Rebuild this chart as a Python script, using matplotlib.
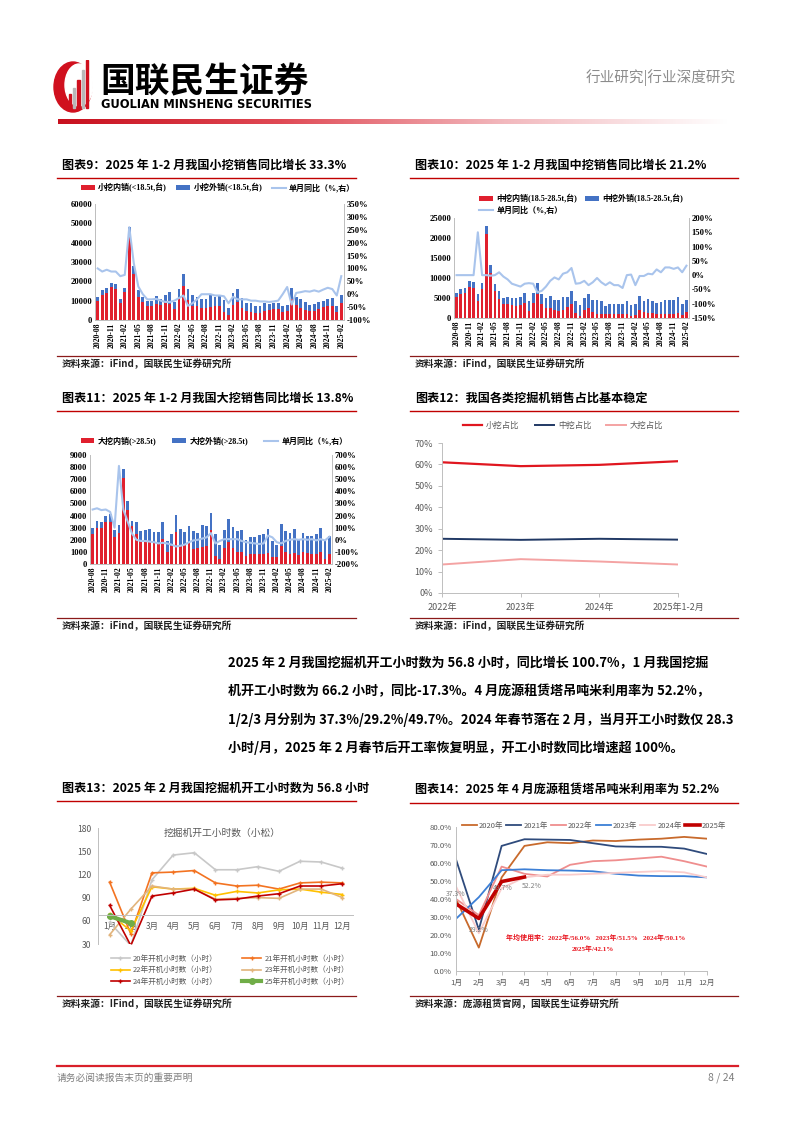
import numpy as np
import pandas as pd
import matplotlib
matplotlib.use("Agg")
import matplotlib.pyplot as plt
from matplotlib.patches import Ellipse, Rectangle
from matplotlib.lines import Line2D
from matplotlib.colors import LinearSegmentedColormap

plt.rcParams['font.family'] = ['Noto Sans CJK SC', 'DejaVu Sans']
plt.rcParams['axes.unicode_minus'] = False

W, H = 794, 1123
SERIF = ['Liberation Serif', 'Noto Sans CJK SC']

# ---- data: monthly excavator sales (2020-08 .. 2025-02) ----
months = list(pd.date_range('2020-08-01', '2025-02-01', freq='MS').strftime('%Y-%m'))

small_dom = [10000, 13000, 14000, 17000, 16000, 9000, 14500, 43000, 24000, 12000,
             9500, 7000, 7000, 8500, 8000, 9000, 8500, 5500, 11000, 17500,
             10500, 7000, 7000, 6000, 6000, 6500, 7000, 7500, 4000, 2500,
             8000, 9500, 6000, 4500, 4000, 3500, 3500, 4500, 5000, 5500,
             5500, 4000, 4500, 11000, 8000, 6000, 5000, 4500, 4500, 5500,
             6500, 7000, 7000, 4000, 9000]
small_exp = [2000, 2500, 2500, 2200, 2800, 2000, 2100, 5000, 4000, 3500,
             2500, 3000, 3000, 4000, 3000, 3800, 6000, 4000, 5000, 6500,
             5500, 6000, 5000, 4800, 5000, 6500, 5000, 5500, 6500, 3500,
             5800, 6500, 5500, 4500, 5000, 4000, 4000, 4300, 3500, 3500,
             3500, 3500, 3000, 5500, 4000, 4800, 4500, 3500, 4000, 3800,
             3500, 4000, 4300, 3300, 3800]
small_yoy = [100, 88, 95, 88, 88, 70, 75, 260, 120, 30,
             0, -20, -20, -18, -25, -30, -30, -25, -15, -5,
             -45, -35, -20, 0, 0, 0, -5, -5, -8, -35,
             -10, -20, -20, -20, -25, -25, -28, -28, -30, -28,
             -25, 0, 28, -40, 5, 8, 12, 10, 15, 10,
             18, 25, 20, -5, 70]

mid_dom = [5200, 6100, 6300, 7800, 7400, 4300, 7300, 20900, 11300, 6700,
           4800, 3400, 3400, 3200, 2900, 3200, 3800, 1800, 3800, 5900,
           3400, 2500, 2400, 1900, 1800, 2000, 2700, 3500, 1200, 500,
           2000, 2500, 1500, 1000, 1000, 1000, 1000, 1000, 1000, 1000,
           1000, 600, 800, 2000, 1500, 1300, 1200, 1000, 1000, 1000,
           1000, 1000, 1200, 700, 1500]
mid_exp = [1000, 1100, 1200, 1400, 1500, 1700, 1500, 2100, 2000, 1700,
           2000, 1600, 1800, 1900, 2100, 2100, 2400, 2500, 2400, 2900,
           2600, 2500, 3100, 2600, 2700, 3300, 2600, 3200, 3100, 2700,
           3000, 3500, 3000, 3500, 3300, 2000, 2400, 2500, 2500, 2600,
           3300, 2600, 2600, 3500, 2800, 3500, 3100, 2800, 2900, 3400,
           3500, 3400, 4100, 2800, 3000]
mid_yoy = [0, 0, 0, 0, 0, 150, 0, 0, -2, 0,
           10, -5, -15, -30, -35, -40, -30, -28, -30, -60,
           -55, -40, -20, -8, -15, 5, 10, 25, -30, -28,
           -20, -35, -25, -10, -25, -35, -25, -35, -35, -45,
           0, 2, -35, -3, -3, 5, 3, 20, 10, 27,
           27, 22, 27, 10, 33]

large_dom = [2450, 3000, 3000, 3500, 3450, 2250, 2550, 7100, 4450, 3100,
             2450, 1900, 1900, 1900, 1750, 1700, 2050, 950, 1500, 2650,
             1450, 1550, 1700, 1200, 1300, 1400, 1450, 2800, 650, 400,
             1300, 1800, 1350, 950, 950, 700, 800, 800, 800, 850,
             900, 600, 550, 1500, 1000, 850, 900, 750, 950, 900,
             800, 800, 1000, 450, 850]
large_exp = [550, 550, 500, 500, 650, 550, 650, 750, 750, 450,
             1000, 800, 900, 950, 900, 950, 1450, 950, 1000, 1400,
             1400, 1100, 1400, 1550, 1300, 1800, 1700, 1400, 1850, 1150,
             1500, 1900, 1700, 1750, 1850, 1300, 1450, 1450, 1600, 1600,
             2000, 1300, 1050, 1800, 1700, 1750, 1950, 1250, 1650, 1450,
             1550, 1650, 1950, 1450, 1450]
large_yoy = [250, 260, 245, 250, 230, 100, 610, 250, 150, 50,
             0, -10, -10, -15, -20, -30, -25, -30, -40, -55,
             -50, -40, -20, -5, 0, 10, 20, 55, -30, -10,
             5, 5, 5, 5, -10, -20, -25, -30, -35, -30,
             35, 20, -20, -30, -10, 0, 5, 0, 5, 0,
             5, -5, 5, -5, 25]

# ---- share by size ----
share_years = ['2022年', '2023年', '2024年', '2025年1-2月']
share_small = [61.0, 59.2, 59.8, 61.5]
share_mid = [25.3, 24.8, 25.3, 24.9]
share_large = [13.3, 15.8, 14.7, 13.3]

# ---- Komatsu working hours ----
month_lbl = ['1月', '2月', '3月', '4月', '5月', '6月', '7月', '8月', '9月', '10月', '11月', '12月']
hours_20 = [58, 28, 113, 145, 148, 126, 126, 130, 124, 137, 136, 128]
hours_21 = [110, 43, 122, 123, 125, 109, 105, 106, 101, 109, 110, 109]
hours_22 = [69, 47, 104, 101, 102, 93, 98, 96, 100, 101, 97, 94]
hours_23 = [42, 75, 105, 101, 101, 88, 89, 90, 89, 101, 101, 90]
hours_24 = [80, 28, 92, 96, 101, 87, 88, 92, 95, 105, 105, 108]
hours_25 = [66, 57]

# ---- Pangyuan tower crane utilisation (%) ----
util_20 = [40, 13, 52, 69.5, 71.5, 71, 72.5, 72.2, 73, 73.5, 74.5, 73.5]
util_21 = [62, 23, 69.5, 73.2, 73, 72.8, 71, 69.2, 69, 69, 68, 65]
util_22 = [40, 31, 58, 54, 52.5, 59, 61, 61.5, 62.5, 63.5, 61, 58]
util_23 = [29, 41, 56, 56.5, 56, 55.8, 55.4, 54, 53, 52.7, 52.7, 52]
util_24 = [47, 21, 46, 52, 53.5, 53.5, 54, 54.5, 55, 55.5, 54.8, 52]
util_25 = [37.3, 29.2, 49.7, 52.2]

RED = '#e0202e'
BLUE = '#4472c4'
LBLUE = '#a9c4ec'
TITLE_RED = '#c00000'
GRAY = '#595959'


def px(x0, y0, x1, y1):
    return [x0 / W, 1 - y1 / H, (x1 - x0) / W, (y1 - y0) / H]


def ft(x, y):
    return x / W, 1 - y / H


fig = plt.figure(figsize=(W / 100, H / 100), dpi=100)

# ---- header ----
lg = fig.add_axes(px(52, 60, 100, 114))
lg.set_xlim(0, 48)
lg.set_ylim(0, 54)
lg.axis('off')
lg.add_patch(Ellipse((21, 27), 38, 50, color='#d0101e'))
lg.add_patch(Ellipse((27, 29), 28, 42, color='white'))
for i, hgt in enumerate([14, 20, 28, 38, 48]):
    lg.add_patch(Rectangle((17 + i * 4.2, 6), 2.2, hgt, color='#d0101e' if i % 2 == 0 else '#b8b8b8'))
fig.text(*ft(100, 82), '国联民生证券', fontsize=25, fontweight='bold', va='center', ha='left')
fig.text(*ft(101, 104), 'GUOLIAN MINSHENG SECURITIES', fontsize=8.3, fontweight='bold',
         va='center', ha='left', family=['DejaVu Sans'])
fig.text(*ft(736, 78), '行业研究|行业深度研究', fontsize=10.5, color='#8c8c8c', va='center', ha='right')

gax = fig.add_axes(px(58, 119, 728, 124))
grad = np.linspace(0, 1, 256).reshape(1, -1)
gcmap = LinearSegmentedColormap.from_list('g', ['#c8101e', '#e04a55', '#f2b8bd', '#ffffff'])
gax.imshow(grad, aspect='auto', cmap=gcmap)
gax.axis('off')


def title_block(x0, x1, y, text):
    fig.text(*ft(x0 + 5, y), text, fontsize=8.7, fontweight='bold', va='center', ha='left')
    fig.add_artist(Line2D([x0 / W, x1 / W], [1 - (y + 13) / H] * 2, color=TITLE_RED, lw=1.0))


def source_block(x0, x1, y, text):
    fig.add_artist(Line2D([x0 / W, x1 / W], [1 - (y - 8) / H] * 2, color='#8b1a1a', lw=0.9))
    fig.text(*ft(x0 + 5, y), text, fontsize=7, fontweight='bold', va='center', ha='left', color='#222222')


def bar_chart(rect, dom, exp, yoy, ymax, ystep, rmin, rmax, rstep, labels):
    ax = fig.add_axes(rect)
    x = np.arange(len(months))
    b1 = ax.bar(x, dom, width=0.62, color=RED, label=labels[0])
    b2 = ax.bar(x, exp, bottom=dom, width=0.62, color=BLUE, label=labels[1])
    ax.set_xlim(-0.6, len(x) - 0.4)
    ax.set_ylim(0, ymax)
    ax.set_yticks(np.arange(0, ymax + 1, ystep))
    ax.set_xticks(x[::3])
    ax.set_xticklabels(months[::3], rotation=90, fontsize=5.6, fontweight='bold', family=SERIF)
    for t in ax.get_yticklabels():
        t.set_fontsize(6.2)
        t.set_fontweight('bold')
        t.set_family(SERIF)
    ax.tick_params(length=0, pad=2)
    ax2 = ax.twinx()
    l1, = ax2.plot(x, yoy, color=LBLUE, lw=1.5, label=labels[2])
    ax2.set_ylim(rmin, rmax)
    ax2.set_yticks(np.arange(rmin, rmax + 1, rstep))
    ax2.set_yticklabels([f'{v}%' for v in np.arange(rmin, rmax + 1, rstep)],
                        fontsize=6.2, fontweight='bold', family=SERIF)
    ax2.tick_params(length=0, pad=2)
    for a in (ax, ax2):
        a.spines['top'].set_visible(False)
        for s in ('left', 'right', 'bottom'):
            a.spines[s].set_color('#bfbfbf')
            a.spines[s].set_linewidth(0.7)
    return ax, b1, b2, l1


legend_font = {'family': SERIF, 'size': 5.8, 'weight': 'bold'}
leg_kw = dict(frameon=False, prop=legend_font, handlelength=1.7, handleheight=0.6,
              handletextpad=0.4)

# ---- chart 9 ----
title_block(57, 356, 165, '图表9：2025 年 1-2 月我国小挖销售同比增长 33.3%')
ax, b1, b2, l1 = bar_chart(px(95, 204, 344, 320), small_dom, small_exp, small_yoy,
                           60000, 10000, -100, 350, 50,
                           ['小挖内销(<18.5t,台)', '小挖外销(<18.5t,台)', '单月同比（%,右）'])
fig.legend([b1, b2, l1], [b1.get_label(), b2.get_label(), l1.get_label()], ncol=3,
           loc='center', bbox_to_anchor=ft(218, 188), columnspacing=1.2, **leg_kw)
source_block(57, 356, 364, '资料来源：iFind，国联民生证券研究所')

# ---- chart 10 ----
title_block(410, 738, 165, '图表10：2025 年 1-2 月我国中挖销售同比增长 21.2%')
ax, b1, b2, l1 = bar_chart(px(454, 218, 689, 318), mid_dom, mid_exp, mid_yoy,
                           25000, 5000, -150, 200, 50,
                           ['中挖内销(18.5-28.5t,台)', '中挖外销(18.5-28.5t,台)', '单月同比（%,右）'])
fig.legend([b1, l1, b2], [b1.get_label(), l1.get_label(), b2.get_label()], ncol=2,
           loc='upper left', bbox_to_anchor=ft(472, 187), columnspacing=1.0,
           labelspacing=0.3, **leg_kw)
source_block(410, 738, 364, '资料来源：iFind，国联民生证券研究所')

# ---- chart 11 ----
title_block(57, 356, 398, '图表11：2025 年 1-2 月我国大挖销售同比增长 13.8%')
ax, b1, b2, l1 = bar_chart(px(90, 455, 332, 564), large_dom, large_exp, large_yoy,
                           9000, 1000, -200, 700, 100,
                           ['大挖内销(>28.5t)', '大挖外销(>28.5t)', '单月同比（%,右）'])
fig.legend([b1, b2, l1], [b1.get_label(), b2.get_label(), l1.get_label()], ncol=3,
           loc='center', bbox_to_anchor=ft(214, 441), columnspacing=2.0, **leg_kw)
source_block(57, 356, 626, '资料来源：iFind，国联民生证券研究所')

# ---- chart 12 ----
title_block(410, 738, 398, '图表12：我国各类挖掘机销售占比基本稳定')
ax = fig.add_axes(px(442, 443, 678, 593))
xs = np.arange(len(share_years))
ax.plot(xs, share_small, color='#e0161f', lw=1.6, label='小挖占比')
ax.plot(xs, share_mid, color='#203864', lw=1.4, label='中挖占比')
ax.plot(xs, share_large, color='#f4a3a3', lw=1.4, label='大挖占比')
ax.set_xlim(0, 3)
ax.set_ylim(0, 70)
ax.set_yticks(np.arange(0, 71, 10))
ax.set_yticklabels([f'{v}%' for v in range(0, 71, 10)], fontsize=6.5, color=GRAY)
ax.set_xticks(xs)
ax.set_xticklabels(share_years, fontsize=6.5, color=GRAY)
ax.tick_params(axis='y', length=3, color='#bfbfbf', width=0.7)
ax.tick_params(axis='x', length=3, color='#bfbfbf', width=0.7, pad=4)
ax.spines['top'].set_visible(False)
ax.spines['right'].set_visible(False)
for s in ('left', 'bottom'):
    ax.spines[s].set_color('#bfbfbf')
    ax.spines[s].set_linewidth(0.7)
ax.legend(ncol=3, loc='center', bbox_to_anchor=ft(563, 425), bbox_transform=fig.transFigure,
          frameon=False, fontsize=6, labelcolor=GRAY, handlelength=2.3, columnspacing=1.8,
          handletextpad=0.5)
source_block(410, 738, 626, '资料来源：iFind，国联民生证券研究所')

# ---- paragraph ----
para = ['2025 年 2 月我国挖掘机开工小时数为 56.8 小时，同比增长 100.7%，1 月我国挖掘',
        '机开工小时数为 66.2 小时，同比-17.3%。4 月庞源租赁塔吊吨米利用率为 52.2%，',
        '1/2/3 月分别为 37.3%/29.2%/49.7%。2024 年春节落在 2 月，当月开工小时数仅 28.3',
        '小时/月，2025 年 2 月春节后开工率恢复明显，开工小时数同比增速超 100%。']
for i, line in enumerate(para):
    fig.text(*ft(228, 663 + i * 28.3), line, fontsize=9.4, fontweight='bold', va='center', ha='left')

# ---- chart 13 ----
title_block(57, 356, 788, '图表13：2025 年 2 月我国挖掘机开工小时数为 56.8 小时')
ax = fig.add_axes(px(98, 828, 353, 944))
ax.spines['bottom'].set_position(('data', 67))
mx = np.arange(1, 13)
h20, = ax.plot(mx, hours_20, color='#c8c8c8', lw=1.2, marker='+', ms=3, label='20年开机小时数（小时）')
h21, = ax.plot(mx, hours_21, color='#f37321', lw=1.2, marker='+', ms=3, label='21年开机小时数（小时）')
h22, = ax.plot(mx, hours_22, color='#ffc000', lw=1.2, marker='+', ms=3, label='22年开机小时数（小时）')
h23, = ax.plot(mx, hours_23, color='#e2b47c', lw=1.2, marker='+', ms=3, label='23年开机小时数（小时）')
h24, = ax.plot(mx, hours_24, color='#c00000', lw=1.2, marker='+', ms=3, label='24年开机小时数（小时）')
h25, = ax.plot(mx[:len(hours_25)], hours_25, color='#70ad47', lw=3, marker='o', ms=4,
               label='25年开机小时数（小时）')
ax.set_xlim(0.45, 12.5)
ax.set_ylim(30, 180)
ax.set_yticks(np.arange(30, 181, 30))
ax.set_yticklabels([str(v) for v in range(30, 181, 30)], fontsize=6.2, color=GRAY)
ax.set_xticks(mx)
ax.set_xticklabels(month_lbl, fontsize=6, color=GRAY)
ax.spines['top'].set_visible(False)
ax.spines['right'].set_visible(False)
for s in ('left', 'bottom'):
    ax.spines[s].set_color('#bfbfbf')
    ax.spines[s].set_linewidth(0.7)
ax.tick_params(length=0, pad=5)
fig.text(*ft(222, 833), '挖掘机开工小时数（小松）', fontsize=7, color=GRAY, va='center', ha='center')
fig.legend([h20, h22, h24, h21, h23, h25],
           [h.get_label() for h in (h20, h22, h24, h21, h23, h25)], ncol=2,
           loc='upper left', bbox_to_anchor=ft(104, 948), frameon=False, fontsize=5.5,
           labelcolor=GRAY, handlelength=2.5, columnspacing=3.2, handletextpad=0.4,
           labelspacing=0.45)
source_block(57, 356, 1004, '资料来源：IFind，国联民生证券研究所')

# ---- chart 14 ----
title_block(410, 738, 790, '图表14：2025 年 4 月庞源租赁塔吊吨米利用率为 52.2%')
ax = fig.add_axes(px(456, 827, 707, 971))
u20, = ax.plot(mx, util_20, color='#c86a2c', lw=1.3, label='2020年')
u21, = ax.plot(mx, util_21, color='#2f4b7c', lw=1.3, label='2021年')
u22, = ax.plot(mx, util_22, color='#ef8e8e', lw=1.3, label='2022年')
u23, = ax.plot(mx, util_23, color='#3c7fd6', lw=1.3, label='2023年')
u24, = ax.plot(mx, util_24, color='#f9cccc', lw=1.3, label='2024年')
m25 = mx[:len(util_25)]
u25, = ax.plot(m25, util_25, color='#c00000', lw=2.6, label='2025年')
lbl_off = [(0, 7), (0, -8), (1, -4.5), (5, -6.5)]
for xv, yv, off in zip(m25, util_25, lbl_off):
    ax.annotate(f'{yv:.1f}%', (xv, yv), xytext=off, textcoords='offset points',
                fontsize=5.0, color='#7f7f7f', ha='center', va='center', annotation_clip=False)
ax.set_xlim(1, 12)
ax.set_ylim(0, 80)
ax.set_yticks(np.arange(0, 81, 10))
ax.set_yticklabels([f'{v:.1f}%' for v in range(0, 81, 10)], fontsize=5.6, color=GRAY)
ax.set_xticks(mx)
ax.set_xticklabels(month_lbl, fontsize=5.6, color=GRAY)
ax.tick_params(axis='x', length=3, color='#bfbfbf', width=0.7, pad=3)
ax.tick_params(axis='y', length=0, pad=3)
ax.spines['top'].set_visible(False)
ax.spines['right'].set_visible(False)
for s in ('left', 'bottom'):
    ax.spines[s].set_color('#bfbfbf')
    ax.spines[s].set_linewidth(0.7)
ax.legend(ncol=6, loc='center', bbox_to_anchor=ft(594, 826), bbox_transform=fig.transFigure,
          frameon=False, fontsize=5.4, labelcolor=GRAY, handlelength=2.0, columnspacing=0.4,
          handletextpad=0.3)
ax.text(0.2, 0.236, '年均使用率：2022年/56.0%   2023年/51.5%   2024年/50.1%',
        transform=ax.transAxes, fontsize=5.0, color='#e8141e', fontweight='bold', va='center',
        family=SERIF)
ax.text(0.46, 0.153, '2025年/42.1%', transform=ax.transAxes, fontsize=5.0, color='#e8141e',
        fontweight='bold', va='center', family=SERIF)
source_block(410, 738, 1004, '资料来源：庞源租赁官网，国联民生证券研究所')

# ---- footer ----
fig.add_artist(Line2D([57 / W, 738 / W], [1 - 1066 / H] * 2, color='#d9202a', lw=1.6))
fig.text(*ft(57, 1078), '请务必阅读报告末页的重要声明', fontsize=7, color='#7f7f7f', va='center', ha='left')
fig.text(*ft(735, 1078), '8 / 24', fontsize=7.5, color='#7f7f7f', va='center', ha='right')

fig.savefig('out.png', dpi=100)
